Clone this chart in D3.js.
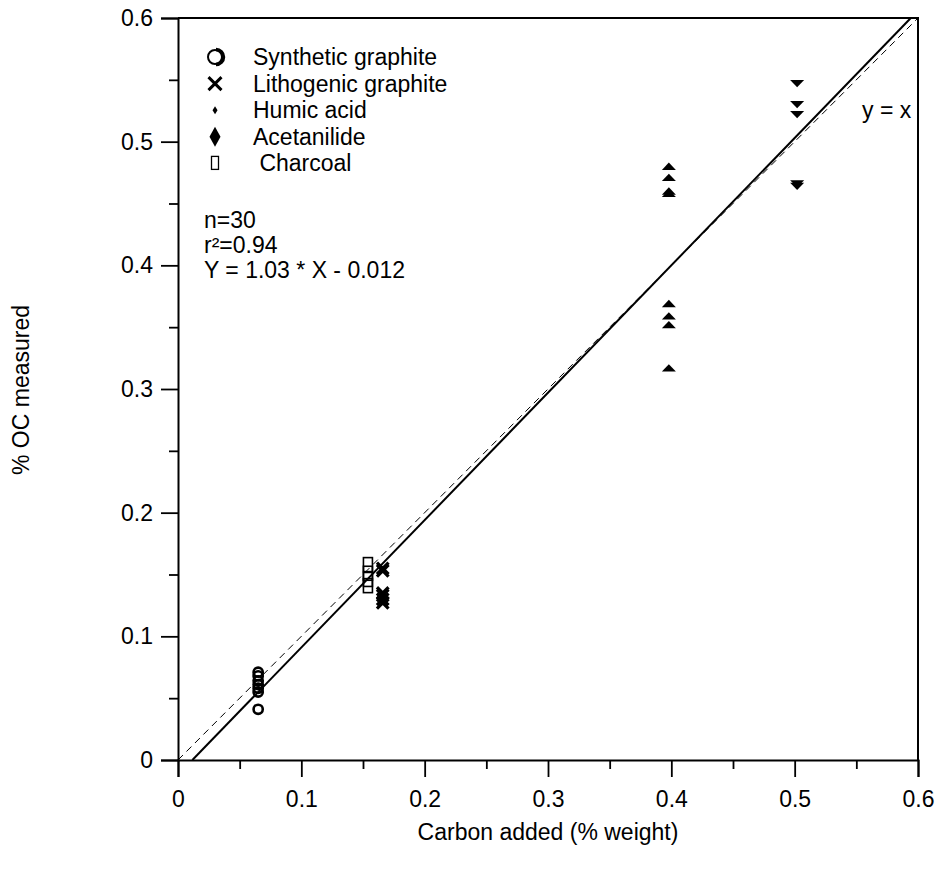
<!DOCTYPE html>
<html>
<head>
<meta charset="utf-8">
<script src="https://cdn.jsdelivr.net/npm/d3@7"></script>
<style>
  body { margin: 0; background: #fff; }
  svg { display: block; }
  text { font-family: "Liberation Sans", Arial, sans-serif; fill: #000; }
</style>
</head>
<body>
<svg id="chart" width="939" height="870"></svg>
<script>
// ---- data ----
const xTicks = [0, 0.1, 0.2, 0.3, 0.4, 0.5, 0.6];
const yTicks = [0, 0.1, 0.2, 0.3, 0.4, 0.5, 0.6];
const minorTicks = [0.05, 0.15, 0.25, 0.35, 0.45, 0.55];
const tickLabels = ["0", "0.1", "0.2", "0.3", "0.4", "0.5", "0.6"];

const syntheticX = [0.065, 0.065, 0.065, 0.065, 0.065, 0.065, 0.065];
const syntheticY = [0.071, 0.068, 0.064, 0.061, 0.058, 0.055, 0.041];
const lithogenicX = [0.166, 0.166, 0.166, 0.166, 0.166, 0.166];
const lithogenicY = [0.155, 0.153, 0.135, 0.133, 0.130, 0.127];
const charcoalX = [0.154, 0.154, 0.154, 0.154];
const charcoalY = [0.158, 0.151, 0.146, 0.141];
const humicX = [0.398, 0.398, 0.398, 0.398, 0.398, 0.398, 0.398, 0.398];
const humicY = [0.480, 0.471, 0.460, 0.458, 0.369, 0.359, 0.352, 0.317];
const acetanilideX = [0.502, 0.502, 0.502, 0.502, 0.502];
const acetanilideY = [0.547, 0.530, 0.522, 0.466, 0.464];

const legendLabels = ["Synthetic graphite", "Lithogenic graphite", "Humic acid", "Acetanilide", " Charcoal"];
const statLines = ["n=30", "r\u00B2=0.94", "Y = 1.03 * X - 0.012"];
const fitSlope = 1.03, fitIntercept = -0.012;

// ---- layout ----
const svg = d3.select("#chart");
const x = d3.scaleLinear().domain([0, 0.6]).range([178, 918]);
const y = d3.scaleLinear().domain([0, 0.6]).range([760, 18]);
const fontSize = 23;

// frame (top & right)
svg.append("path")
  .attr("d", `M${x(0)},${y(0.6)}H${x(0.6)}V${y(0)}`)
  .attr("fill", "none").attr("stroke", "#000").attr("stroke-width", 2);

// axes
const fmt = (d) => tickLabels[xTicks.indexOf(d)];
const gx = svg.append("g").attr("transform", `translate(0,${y(0)})`)
  .call(d3.axisBottom(x).tickValues(xTicks).tickSize(17).tickPadding(14).tickFormat(fmt));
const gxm = svg.append("g").attr("transform", `translate(0,${y(0)})`)
  .call(d3.axisBottom(x).tickValues(minorTicks).tickSize(9).tickFormat(""));
const gy = svg.append("g").attr("transform", `translate(${x(0)},0)`)
  .call(d3.axisLeft(y).tickValues(yTicks).tickSize(17).tickPadding(8).tickFormat(fmt));
const gym = svg.append("g").attr("transform", `translate(${x(0)},0)`)
  .call(d3.axisLeft(y).tickValues(minorTicks).tickSize(9).tickFormat(""));
[gx, gxm, gy, gym].forEach(g => {
  g.select(".domain").attr("stroke", "#000").attr("stroke-width", 2);
  g.selectAll(".tick line").attr("stroke", "#000").attr("stroke-width", 1.8);
  g.selectAll(".tick text").attr("font-size", fontSize)
    .attr("font-family", "Liberation Sans, Arial, sans-serif").attr("fill", "#000");
});
gxm.select(".domain").remove();
gym.select(".domain").remove();

// axis titles
svg.append("text").attr("x", 548).attr("y", 840).attr("text-anchor", "middle")
  .attr("font-size", fontSize).text("Carbon added (% weight)");
svg.append("text").attr("transform", "translate(29,390) rotate(-90)").attr("text-anchor", "middle")
  .attr("font-size", fontSize).text("% OC measured");

// lines
svg.append("line")
  .attr("x1", x(0)).attr("y1", y(0)).attr("x2", x(0.6)).attr("y2", y(0.6))
  .attr("stroke", "#000").attr("stroke-width", 1).attr("stroke-dasharray", "7,5");
const x0 = -fitIntercept / fitSlope, x1 = (0.6 - fitIntercept) / fitSlope;
svg.append("line")
  .attr("x1", x(x0)).attr("y1", y(0)).attr("x2", x(x1)).attr("y2", y(fitSlope * x1 + fitIntercept))
  .attr("stroke", "#000").attr("stroke-width", 2);
svg.append("text").attr("x", 862).attr("y", 118).attr("font-size", fontSize).text("y = x");

// markers
const zip = (xs, ys) => xs.map((v, i) => [v, ys[i]]);
svg.append("g").selectAll("circle").data(zip(syntheticX, syntheticY)).join("circle")
  .attr("cx", d => x(d[0])).attr("cy", d => y(d[1])).attr("r", 4.6)
  .attr("fill", "none").attr("stroke", "#000").attr("stroke-width", 2.6);
svg.append("g").selectAll("path").data(zip(lithogenicX, lithogenicY)).join("path")
  .attr("d", d => { const cx = x(d[0]), cy = y(d[1]), s = 5.8;
    return `M${cx - s},${cy - s}L${cx + s},${cy + s}M${cx - s},${cy + s}L${cx + s},${cy - s}`; })
  .attr("stroke", "#000").attr("stroke-width", 3.2).attr("fill", "none");
svg.append("g").selectAll("rect").data(zip(charcoalX, charcoalY)).join("rect")
  .attr("x", d => x(d[0]) - 4.5).attr("y", d => y(d[1]) - 7).attr("width", 9).attr("height", 14)
  .attr("fill", "none").attr("stroke", "#000").attr("stroke-width", 1.6);
svg.append("g").selectAll("path").data(zip(humicX, humicY)).join("path")
  .attr("d", d => { const cx = x(d[0]), cy = y(d[1]);
    return `M${cx - 7},${cy + 3.5}L${cx + 7},${cy + 3.5}L${cx},${cy - 3.8}Z`; })
  .attr("fill", "#000");
svg.append("g").selectAll("path").data(zip(acetanilideX, acetanilideY)).join("path")
  .attr("d", d => { const cx = x(d[0]), cy = y(d[1]);
    return `M${cx - 7},${cy - 3.5}L${cx + 7},${cy - 3.5}L${cx},${cy + 3.8}Z`; })
  .attr("fill", "#000");

// legend
const lg = svg.append("g");
const rowY = (i) => 57 + i * 26.6;
legendLabels.forEach((t, i) => {
  lg.append("text").attr("x", 253).attr("y", rowY(i) + 8).attr("font-size", fontSize)
    .attr("xml:space", "preserve").style("white-space", "pre").text(t);
});
const sx = 215;
// shadowed circle
lg.append("circle").attr("cx", sx).attr("cy", rowY(0)).attr("r", 7)
  .attr("fill", "none").attr("stroke", "#000").attr("stroke-width", 2);
lg.append("path").attr("d", `M${sx + 1},${rowY(0) - 7.5}A7.5,7.5 0 0 1 ${sx + 1},${rowY(0) + 7.5}`)
  .attr("fill", "none").attr("stroke", "#000").attr("stroke-width", 3.5);
// cross
lg.append("path").attr("d", `M${sx - 6.5},${rowY(1) - 6.5}L${sx + 6.5},${rowY(1) + 6.5}M${sx - 6.5},${rowY(1) + 6.5}L${sx + 6.5},${rowY(1) - 6.5}`)
  .attr("stroke", "#000").attr("stroke-width", 3);
// small diamond
lg.append("path").attr("d", `M${sx},${rowY(2) - 4}L${sx + 2.5},${rowY(2)}L${sx},${rowY(2) + 4}L${sx - 2.5},${rowY(2)}Z`)
  .attr("fill", "#000");
// big diamond
lg.append("path").attr("d", `M${sx},${rowY(3) - 10}L${sx + 5.5},${rowY(3)}L${sx},${rowY(3) + 10}L${sx - 5.5},${rowY(3)}Z`)
  .attr("fill", "#000");
// rect
lg.append("rect").attr("x", sx - 3.5).attr("y", rowY(4) - 7).attr("width", 7).attr("height", 13)
  .attr("fill", "none").attr("stroke", "#000").attr("stroke-width", 1.3);

// stats
statLines.forEach((t, i) => {
  svg.append("text").attr("x", 204).attr("y", 228 + i * 25).attr("font-size", fontSize).text(t);
});
</script>
</body>
</html>
